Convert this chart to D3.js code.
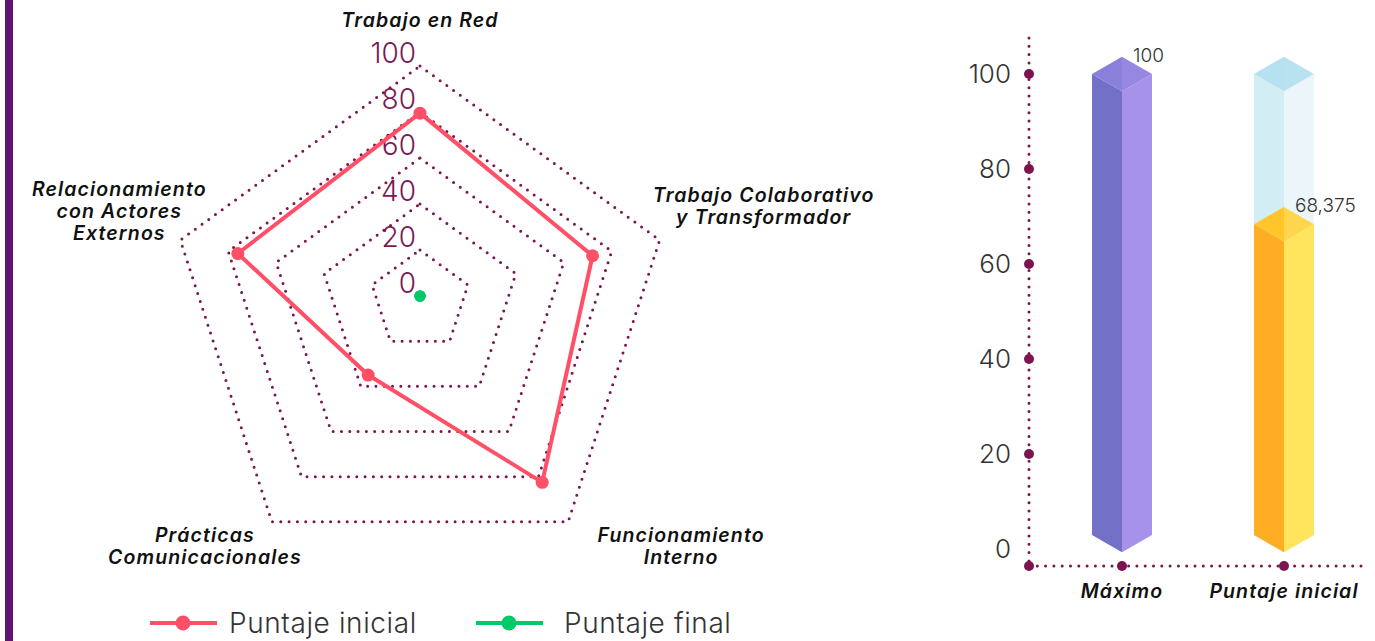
<!DOCTYPE html>
<html>
<head>
<meta charset="utf-8">
<title>Radar y barras</title>
<script src="https://cdn.jsdelivr.net/npm/d3@7"></script>
<style>
  body { margin: 0; background: #fff; }
  svg { display: block; font-family: Inter, "Open Sans", sans-serif; }
  .nombre { font-size: 19.5px; font-weight: 600; font-style: italic; fill: #111; letter-spacing: 1.1px; }
  .fina { font-weight: 300; }
</style>
</head>
<body>
<script>
// radar
const dimensiones = ["Trabajo en Red", "Trabajo Colaborativo\ny Transformador", "Funcionamiento\nInterno", "Prácticas\nComunicacionales", "Relacionamiento\ncon Actores\nExternos"];
const puntajeInicial = [79.5, 72, 82.5, 35, 76];
const puntajeFinal = [0, 0, 0, 0, 0];
const nivelesRadar = [0, 20, 40, 60, 80, 100];

// barras
const categorias = ["Máximo", "Puntaje inicial"];
const valoresBarras = [100, 68.375];
const etiquetasBarras = ["100", "68,375"];
const ticksBarras = [0, 20, 40, 60, 80, 100];

const w = 1375, h = 641;
const granate = "#7c1450";
const rojo = "#ff5068", verde = "#00c96a";

const svg = d3.select("body").append("svg")
  .attr("width", w)
  .attr("height", h);

// franja morada a la izquierda
svg.append("rect").attr("x", 5).attr("y", 0).attr("width", 8).attr("height", h).attr("fill", "#5e1470");

// ---------- radar ----------
const cx = 420, cy = 296;
const rScale = d3.scaleLinear().domain([0, 100]).range([0, 252]);
// el centro de cada anillo baja un poco a medida que crece (como en el original)
const baja = d3.scaleLinear().domain([0, 100]).range([0, 22]);
const angulo = i => i * 2 * Math.PI / dimensiones.length;
function punto(v, i) {
  const r = rScale(v), a = angulo(i);
  return [cx + r * Math.sin(a), cy + baja(v) - r * Math.cos(a)];
}
const linea = d3.line().curve(d3.curveLinearClosed);

// anillos punteados
svg.selectAll("path.anillo")
  .data(nivelesRadar.filter(d => d > 0))
  .enter()
  .append("path")
  .attr("class", "anillo")
  .attr("d", v => linea(dimensiones.map((_, i) => punto(v, i))))
  .attr("fill", "none")
  .attr("stroke", granate)
  .attr("stroke-width", 3)
  .attr("stroke-linecap", "round")
  .attr("stroke-dasharray", "0 8.3");

// valores de la escala
svg.selectAll("text.nivel")
  .data(nivelesRadar)
  .enter()
  .append("text")
  .attr("class", "nivel fina")
  .attr("x", 416)
  .attr("y", v => punto(v, 0)[1] - 3)
  .attr("text-anchor", "end")
  .attr("font-size", 28)
  .attr("fill", "#7a1a55")
  .text(v => v);

// serie inicial
svg.append("path")
  .attr("d", linea(puntajeInicial.map((v, i) => punto(v, i))))
  .attr("fill", "none")
  .attr("stroke", rojo)
  .attr("stroke-width", 4)
  .attr("stroke-linejoin", "round");
svg.selectAll("circle.ini")
  .data(puntajeInicial)
  .enter()
  .append("circle")
  .attr("class", "ini")
  .attr("cx", (v, i) => punto(v, i)[0])
  .attr("cy", (v, i) => punto(v, i)[1])
  .attr("r", 6.5)
  .attr("fill", rojo);

// serie final (todo en cero)
svg.selectAll("circle.fin")
  .data(puntajeFinal)
  .enter()
  .append("circle")
  .attr("class", "fin")
  .attr("cx", (v, i) => punto(v, i)[0])
  .attr("cy", (v, i) => punto(v, i)[1])
  .attr("r", 5.5)
  .attr("fill", verde);

// nombres de las dimensiones
const desplaza = [[0, -39], [104, -38], [113, 20], [-67, 20], [-61, -44]];
dimensiones.forEach((nombre, i) => {
  const p = punto(100, i);
  const t = svg.append("text")
    .attr("class", "nombre")
    .attr("text-anchor", "middle")
    .attr("x", p[0] + desplaza[i][0])
    .attr("y", p[1] + desplaza[i][1]);
  nombre.split("\n").forEach((l, k) => {
    t.append("tspan").attr("x", p[0] + desplaza[i][0]).attr("dy", k ? 22 : 0).text(l);
  });
});

// leyenda
const leyenda = [
  { nombre: "Puntaje inicial", color: rojo, x: 150, gap: 12 },
  { nombre: "Puntaje final", color: verde, x: 476, gap: 21 }
];
leyenda.forEach(d => {
  svg.append("line").attr("x1", d.x).attr("x2", d.x + 67).attr("y1", 623).attr("y2", 623)
    .attr("stroke", d.color).attr("stroke-width", 4);
  svg.append("circle").attr("cx", d.x + 33).attr("cy", 623).attr("r", 7.5).attr("fill", d.color);
  svg.append("text").attr("class", "fina").attr("x", d.x + 67 + d.gap).attr("y", 633)
    .attr("font-size", 28).attr("letter-spacing", 0.6).attr("fill", "#333").text(d.nombre);
});

// ---------- barras ----------
const ejeX = 1029;
const yScale = d3.scaleLinear().domain([0, 100]).range([549, 74]);
const xScale = d3.scalePoint().domain(categorias).range([1041, 1365]).padding(0.5);
const baseY = yScale(0) + 17;
const medio = 30, iso = 17.3;

// ejes punteados
svg.append("line").attr("x1", ejeX).attr("x2", ejeX).attr("y1", 38).attr("y2", baseY)
  .attr("stroke", granate).attr("stroke-width", 3).attr("stroke-linecap", "round").attr("stroke-dasharray", "0 8.3");
svg.append("line").attr("x1", ejeX).attr("x2", 1365).attr("y1", baseY).attr("y2", baseY)
  .attr("stroke", granate).attr("stroke-width", 3).attr("stroke-linecap", "round").attr("stroke-dasharray", "0 8.3");

svg.selectAll("circle.tick")
  .data(ticksBarras)
  .enter()
  .append("circle")
  .attr("cx", ejeX)
  .attr("cy", v => v === 0 ? baseY : yScale(v))
  .attr("r", 5)
  .attr("fill", granate);
svg.selectAll("circle.cat")
  .data(categorias)
  .enter()
  .append("circle")
  .attr("cx", d => xScale(d))
  .attr("cy", baseY)
  .attr("r", 5)
  .attr("fill", granate);

svg.selectAll("text.tickb")
  .data(ticksBarras)
  .enter()
  .append("text")
  .attr("class", "fina")
  .attr("x", 1011)
  .attr("y", v => yScale(v))
  .attr("dy", "0.35em")
  .attr("text-anchor", "end")
  .attr("font-size", 26)
  .attr("fill", "#333")
  .text(v => v);

// prisma isométrico
function prisma(c, v, colores) {
  const t = yScale(v), b = yScale(0) - 14;
  const g = svg.append("g");
  g.append("path").attr("fill", colores[0])
    .attr("d", `M${c - medio},${t} L${c},${t + iso} L${c},${b + iso} L${c - medio},${b} Z`);
  g.append("path").attr("fill", colores[1])
    .attr("d", `M${c},${t + iso} L${c + medio},${t} L${c + medio},${b} L${c},${b + iso} Z`);
  g.append("path").attr("fill", colores[2])
    .attr("d", `M${c - medio},${t} L${c},${t - iso} L${c},${t + iso} Z`);
  g.append("path").attr("fill", colores[3])
    .attr("d", `M${c},${t - iso} L${c + medio},${t} L${c},${t + iso} Z`);
}

// fondo del segundo prisma: hasta el máximo
prisma(xScale(categorias[1]), valoresBarras[0], ["#d3edf5", "#ecf6fa", "#b6e1f0", "#b9e2f1"]);
prisma(xScale(categorias[0]), valoresBarras[0], ["#7370c8", "#a692ea", "#8b7fdc", "#9687e2"]);
prisma(xScale(categorias[1]), valoresBarras[1], ["#ffae24", "#ffe55e", "#ffc52a", "#ffd64e"]);

svg.selectAll("text.valor")
  .data(categorias)
  .enter()
  .append("text")
  .attr("class", "fina")
  .attr("x", d => xScale(d) + 11)
  .attr("y", (d, i) => yScale(valoresBarras[i]) - iso + 5)
  .attr("font-size", 19)
  .attr("fill", "#333")
  .text((d, i) => etiquetasBarras[i]);

svg.selectAll("text.cat")
  .data(categorias)
  .enter()
  .append("text")
  .attr("class", "nombre")
  .attr("x", d => xScale(d))
  .attr("y", 598)
  .attr("text-anchor", "middle")
  .text(d => d);
</script>
</body>
</html>
